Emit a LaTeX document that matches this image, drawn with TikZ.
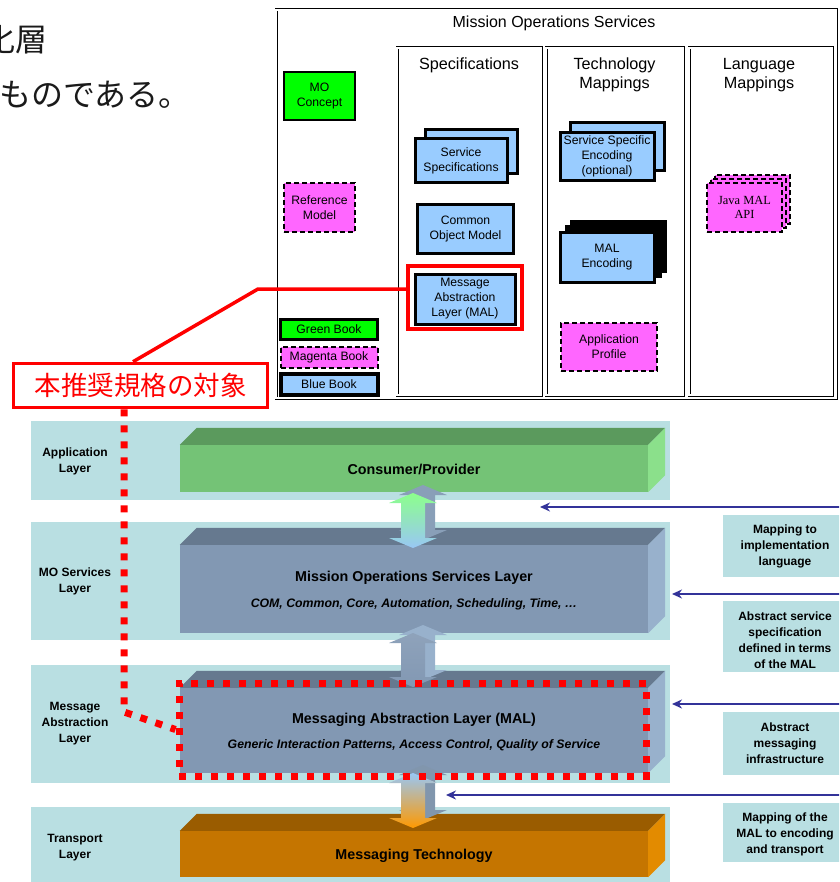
\documentclass[tikz,border=0pt]{standalone}
\usepackage{fontspec}
\setmainfont{Liberation Sans}
\newfontfamily\jpfont{Noto Sans CJK JP}
\newfontfamily\tnrfont{Liberation Serif}
\usetikzlibrary{arrows.meta,calc}
\definecolor{bandc}{RGB}{185,223,226}
\definecolor{cpfront}{RGB}{116,195,118}
\definecolor{cptop}{RGB}{91,154,93}
\definecolor{cpside}{RGB}{139,224,139}
\definecolor{mofront}{RGB}{130,152,179}
\definecolor{motop}{RGB}{102,121,143}
\definecolor{moside}{RGB}{152,177,204}
\definecolor{mtfront}{RGB}{197,117,0}
\definecolor{mttop}{RGB}{154,92,0}
\definecolor{mtside}{RGB}{227,139,0}
\definecolor{greenc}{RGB}{0,255,0}
\definecolor{magc}{RGB}{255,102,255}
\definecolor{bluec}{RGB}{153,204,255}
\definecolor{arrblue}{RGB}{51,51,153}
\definecolor{redc}{RGB}{255,0,0}
\definecolor{jptext}{RGB}{26,26,26}
\newcommand{\boxfnt}{\fontsize{12.2}{15}\selectfont}
\newcommand{\layfnt}{\fontsize{12}{16}\selectfont\bfseries}
\tikzset{
  gbook/.style={draw=black, line width=2.5pt, fill=greenc, align=center, inner sep=0pt, font=\boxfnt},
  mbook/.style={draw=black, line width=2pt, dash pattern=on 5pt off 3pt, fill=magc, align=center, inner sep=0pt, font=\boxfnt},
  bbook/.style={draw=black, line width=3pt, fill=bluec, align=center, inner sep=0pt, font=\boxfnt},
  kbook/.style={draw=black, line width=3pt, fill=black, inner sep=0pt},
  colbox/.style={draw=black, line width=0.7pt, double, double distance=1.6pt, inner sep=0pt},
  coltitle/.style={align=center, font=\fontsize{16.2}{19.5}\selectfont, inner sep=0pt},
  band/.style={fill=bandc, draw=none, inner sep=0pt},
  bandlbl/.style={align=center, font=\layfnt, inner sep=0pt},
  front/.style={draw=none, inner sep=0pt, minimum width=468pt},
  title/.style={font=\fontsize{14.3}{16}\selectfont\bfseries, inner sep=0pt},
  subtitle/.style={font=\fontsize{12.3}{14}\selectfont\bfseries\itshape, inner sep=0pt},
  rlbl/.style={fill=bandc, draw=none, inner sep=0pt, minimum width=125pt},
  rtext/.style={align=center, font=\layfnt, inner sep=0pt},
  bluearrow/.style={draw=arrblue, line width=2pt, -{Stealth[length=10pt, width=9pt]}},
  redline/.style={draw=redc, line width=3.5pt},
  reddot/.style={draw=redc, line width=7pt, dash pattern=on 7pt off 9pt},
}
\begin{document}
\begin{tikzpicture}[x=1pt,y=-1pt]
\useasboundingbox (0,0) rectangle (839,882);
\clip (0,0) rectangle (839,882);

% ---------- Japanese text top-left ----------
\node[anchor=east, inner sep=0pt, font=\jpfont\fontsize{32}{34}\selectfont, text=jptext] (jp1) at (48,40) {化層};
\node[anchor=west, inner sep=0pt, font=\jpfont\fontsize{32}{34}\selectfont, text=jptext] (jp2) at (-1,95) {ものである。};

% ---------- Mission Operations Services diagram ----------
\node[colbox, minimum width=560pt, minimum height=388pt] (outer) at (556,204) {};
\node[inner sep=0pt, font=\fontsize{16}{19}\selectfont] (mostitle) at (554,23) {Mission Operations Services};
\node[colbox, minimum width=144pt, minimum height=347pt] (colspec) at (469,221.5) {};
\node[colbox, minimum width=137pt, minimum height=347pt] (coltech) at (614.5,221.5) {};
\node[colbox, minimum width=143pt, minimum height=347pt] (collang) at (760.5,221.5) {};
\node[coltitle] (tspec) at (469,65) {Specifications};
\node[coltitle] (ttech) at (614.5,75) {Technology\\Mappings};
\node[coltitle] (tlang) at (759,75) {Language\\Mappings};

\node[gbook, minimum width=71pt, minimum height=48pt] (moc) at (319.5,96) {MO\\Concept};
\node[mbook, minimum width=71pt, minimum height=49pt] (refm) at (319.5,207.5) {Reference\\Model};
\node[gbook, minimum width=97pt, minimum height=20pt] (gb) at (329,329.5) {Green Book};
\node[mbook, minimum width=97pt, minimum height=21pt] (mb) at (329,357) {Magenta Book};
\node[bbook, line width=4pt, minimum width=97pt, minimum height=21pt] (bb) at (329,384) {Blue Book};

\node[bbook, minimum width=92pt, minimum height=44pt] (ss2) at (471,151.5) {};
\node[bbook, minimum width=92pt, minimum height=44pt] (ss) at (461,160.5) {Service\\Specifications};
\node[bbook, minimum width=96pt, minimum height=49pt] (com) at (465.5,229) {Common\\Object Model};
\node[draw=redc, line width=4pt, minimum width=114pt, minimum height=63pt, inner sep=0pt] (malred) at (465,297.5) {};
\node[bbook, minimum width=100pt, minimum height=50pt] (mal) at (465,299) {Message\\Abstraction\\Layer (MAL)};

\node[bbook, minimum width=94pt, minimum height=48pt] (sse2) at (617,146.5) {};
\node[bbook, minimum width=94pt, minimum height=48pt] (sse) at (607,156.5) {Service Specific\\Encoding\\(optional)};
\node[kbook, minimum width=94pt, minimum height=50pt] (male3) at (618,246.5) {};
\node[kbook, minimum width=94pt, minimum height=50pt] (male2) at (613,251.5) {};
\node[bbook, minimum width=94pt, minimum height=50pt] (male) at (607,257.5) {MAL\\Encoding};
\node[mbook, minimum width=96pt, minimum height=48pt] (ap) at (609,347) {Application\\Profile};

\node[mbook, minimum width=75pt, minimum height=49pt] (java3) at (752.5,199.5) {};
\node[mbook, minimum width=75pt, minimum height=49pt] (java2) at (748.5,203.5) {};
\node[mbook, minimum width=75pt, minimum height=49pt, font=\tnrfont\fontsize{12.4}{14.5}\selectfont] (java) at (744.5,207.5) {Java MAL\\API};

% ---------- red label ----------
\node[draw=redc, line width=3.5pt, fill=white, minimum width=254pt, minimum height=44pt, inner sep=0pt,
      text=redc, font=\jpfont\fontsize{26.5}{28}\selectfont] (lbl) at (140.5,385.5) {本推奨規格の対象};
\coordinate (rbend) at (258,289);
\draw[redline] ([xshift=-7.5pt]lbl.north) -- (rbend) -- ([yshift=8.5pt]malred.west);

% ---------- layer bands ----------
\node[band, minimum width=639pt, minimum height=79pt] (bapp) at (350.5,460.5) {};
\node[band, minimum width=639pt, minimum height=118pt] (bmo) at (350.5,581) {};
\node[band, minimum width=639pt, minimum height=118pt] (bmal) at (350.5,724) {};
\node[band, minimum width=639pt, minimum height=78pt] (btr) at (350.5,846) {};
\node[bandlbl] (lapp) at (75,461) {Application\\Layer};
\node[bandlbl] (lmo) at (75,581) {MO Services\\Layer};
\node[bandlbl] (lmal) at (75,724) {Message\\Abstraction\\Layer};
\node[bandlbl] (ltr) at (75,848) {Transport\\Layer};

% ---------- right labels ----------
\node[rlbl, minimum height=62pt] (r1) at (785.5,546) {};
\node[rtext] (r1t) at (785,546) {Mapping to\\implementation\\language};
\node[rlbl, minimum height=71pt] (r2) at (785.5,636.5) {};
\node[rtext] (r2t) at (785,640) {Abstract service\\specification\\defined in terms\\of the MAL};
\node[rlbl, minimum height=63pt] (r3) at (785.5,743.5) {};
\node[rtext] (r3t) at (785,743) {Abstract\\messaging\\infrastructure};
\node[rlbl, minimum height=59pt] (r4) at (785.5,832.5) {};
\node[rtext] (r4t) at (785,834) {Mapping of the\\MAL to encoding\\and transport};

% ---------- 3D blocks ----------
\node[front, fill=cpfront, minimum height=47pt] (cp) at (414,468.5) {};
\fill[cptop] (cp.north west) -- ++(17,-17) -- ($(cp.north east)+(17,-17)$) -- (cp.north east) -- cycle;
\fill[cpside] (cp.north east) -- ++(17,-17) -- ($(cp.south east)+(17,-17)$) -- (cp.south east) -- cycle;
\node[title] (cpt) at (414,469) {Consumer/Provider};

\node[front, fill=mofront, minimum height=88pt] (mo) at (414,589) {};
\fill[motop] (mo.north west) -- ++(17,-17) -- ($(mo.north east)+(17,-17)$) -- (mo.north east) -- cycle;
\fill[moside] (mo.north east) -- ++(17,-17) -- ($(mo.south east)+(17,-17)$) -- (mo.south east) -- cycle;
\node[title] (mot) at (414,578) {Mission Operations Services Layer};
\node[subtitle] (mos) at (414,604) {COM, Common, Core, Automation, Scheduling, Time, \dots};

\node[front, fill=mofront, minimum height=85pt] (malb) at (414,730.5) {};
\fill[motop] (malb.north west) -- ++(17,-17) -- ($(malb.north east)+(17,-17)$) -- (malb.north east) -- cycle;
\fill[moside] (malb.north east) -- ++(17,-17) -- ($(malb.south east)+(17,-17)$) -- (malb.south east) -- cycle;
\node[title] (malt) at (414,720) {Messaging Abstraction Layer (MAL)};
\node[subtitle] (mals) at (414,745) {Generic Interaction Patterns, Access Control, Quality of Service};

\node[front, fill=mtfront, minimum height=46pt] (mt) at (414,854) {};
\fill[mttop] (mt.north west) -- ++(17,-17) -- ($(mt.north east)+(17,-17)$) -- (mt.north east) -- cycle;
\fill[mtside] (mt.north east) -- ++(17,-17) -- ($(mt.south east)+(17,-17)$) -- (mt.south east) -- cycle;
\node[title] (mtt) at (414,856) {Messaging Technology};

% ---------- vertical double arrows ----------
% arrow 1
\fill[moside!90!black] (423,485) -- (447,495) -- (435,495) -- (435,530) -- (447,530) -- (423,540) -- (399,530) -- (411,530) -- (411,495) -- (399,495) -- cycle;
\shade[top color=green!45!white, bottom color=bluec!80!moside] (413,493) -- (437,503) -- (425,503) -- (425,538) -- (437,538) -- (413,548) -- (389,538) -- (401,538) -- (401,503) -- (389,503) -- cycle;
% arrow 2
\fill[moside] (423,625) -- (447,635) -- (435,635) -- (435,670) -- (447,670) -- (423,680) -- (399,670) -- (411,670) -- (411,635) -- (399,635) -- cycle;
\shade[top color=mofront!90!white, bottom color=mofront] (413,633) -- (437,643) -- (425,643) -- (425,677) -- (437,677) -- (413,687) -- (389,677) -- (401,677) -- (401,643) -- (389,643) -- cycle;
% arrow 3
\fill[moside!85!black] (423,765) -- (447,775) -- (435,775) -- (435,810) -- (447,810) -- (423,820) -- (399,810) -- (411,810) -- (411,775) -- (399,775) -- cycle;
\shade[top color=bluec!80!moside, bottom color=orange!80!yellow] (413,773) -- (437,783) -- (425,783) -- (425,818) -- (437,818) -- (413,828) -- (389,818) -- (401,818) -- (401,783) -- (389,783) -- cycle;

% ---------- blue arrows ----------
\coordinate (b1s) at (845,507); \coordinate (b1e) at (540,507);
\coordinate (b2s) at (845,594); \coordinate (b2e) at (672,594);
\coordinate (b3s) at (845,704); \coordinate (b3e) at (672,704);
\coordinate (b4s) at (845,795); \coordinate (b4e) at (446,795);
\draw[bluearrow] (b1s) -- (b1e);
\draw[bluearrow] (b2s) -- (b2e);
\draw[bluearrow] (b3s) -- (b3e);
\draw[bluearrow] (b4s) -- (b4e);

% ---------- red dotted selection ----------
\node[reddot, minimum width=467pt, minimum height=93pt, inner sep=0pt] (malsel) at (412.5,729.5) {};
\coordinate (dbend) at (124,712);
\draw[reddot] (lbl.south -| dbend) -- (dbend) -- (malsel.west);
\end{tikzpicture}
\end{document}
